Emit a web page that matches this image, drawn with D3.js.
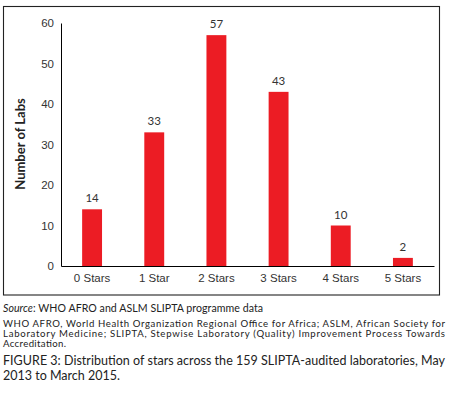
<!DOCTYPE html>
<html lang="en">
<head>
<meta charset="UTF-8">
<title>Distribution of stars</title>
<script src="https://cdn.jsdelivr.net/npm/d3@7"></script>
<style>
    body { margin: 0; background: #fff; }
    svg { display: block; font-family: Lato, "Open Sans", sans-serif; }
</style>
</head>
<body>
<svg width="451" height="396"></svg>
<script>
    const categories = ["0 Stars", "1 Star", "2 Stars", "3 Stars", "4 Stars", "5 Stars"];
    const labCounts = [14, 33, 57, 43, 10, 2];
    const yTicks = [0, 10, 20, 30, 40, 50, 60];

    const svg = d3.select("svg");

    // frame around the chart
    svg.append("rect")
        .attr("x", 3.5).attr("y", 6.5)
        .attr("width", 436).attr("height", 288.5)
        .attr("fill", "none").attr("stroke", "#222").attr("stroke-width", 1.1);

    const x = d3.scaleBand().domain(categories).range([61, 434]).paddingInner(0.68).paddingOuter(0.34);
    const y = d3.scaleLinear().domain([0, 60]).range([266, 23]);

    const yAxis = svg.append("g")
        .attr("transform", "translate(61,0)")
        .call(d3.axisLeft(y).tickValues(yTicks).tickSize(0).tickPadding(7));
    yAxis.select(".domain").attr("stroke", "#000");
    yAxis.selectAll("text").attr("font-size", 11.5).attr("fill", "#333");

    svg.append("g")
        .selectAll("rect")
        .data(labCounts)
        .join("rect")
        .attr("x", (d, i) => x(categories[i]))
        .attr("y", d => y(d))
        .attr("width", x.bandwidth())
        .attr("height", d => y(0) - y(d))
        .attr("fill", "#ec1c24");

    svg.append("g")
        .selectAll("text")
        .data(labCounts)
        .join("text")
        .attr("x", (d, i) => x(categories[i]) + x.bandwidth() / 2)
        .attr("y", d => y(d) - 7)
        .attr("text-anchor", "middle")
        .attr("font-size", 11.5)
        .attr("fill", "#333")
        .text(d => d);

    const xAxis = svg.append("g")
        .attr("transform", "translate(0,266)")
        .call(d3.axisBottom(x).tickSize(0).tickPadding(8));
    xAxis.select(".domain").attr("stroke", "#000");
    xAxis.selectAll("text").attr("font-size", 11.5).attr("fill", "#333");

    svg.append("text")
        .attr("transform", "translate(25,144) rotate(-90)")
        .attr("text-anchor", "middle")
        .attr("font-size", 13)
        .attr("font-weight", "bold")
        .attr("fill", "#222")
        .text("Number of Labs");

    // notes and caption below the frame
    const src = svg.append("text").attr("x", 3).attr("y", 311.5).attr("font-size", 10.6).attr("fill", "#222")
        .attr("textLength", 260).attr("lengthAdjust", "spacing");
    src.append("tspan").attr("font-style", "italic").text("Source");
    src.append("tspan").text(": WHO AFRO and ASLM SLIPTA programme data");

    const notes = [
        ["WHO AFRO, World Health Organization Regional Office for Africa; ASLM, African Society for", 442],
        ["Laboratory Medicine; SLIPTA, Stepwise Laboratory (Quality) Improvement Process Towards", 442],
        ["Accreditation.", 63]
    ];
    notes.forEach(([t, w], i) => {
        svg.append("text").attr("x", 3).attr("y", 327 + i * 9.8)
            .attr("font-size", 9.6).attr("fill", "#222")
            .attr("textLength", w).attr("lengthAdjust", "spacing")
            .text(t);
    });

    svg.append("text").attr("x", 3).attr("y", 364.5).attr("font-size", 12.5).attr("fill", "#222")
        .attr("textLength", 442).attr("lengthAdjust", "spacing")
        .text("FIGURE 3: Distribution of stars across the 159 SLIPTA-audited laboratories, May");
    svg.append("text").attr("x", 3).attr("y", 379.5).attr("font-size", 12.5).attr("fill", "#222")
        .text("2013 to March 2015.");
</script>
</body>
</html>
